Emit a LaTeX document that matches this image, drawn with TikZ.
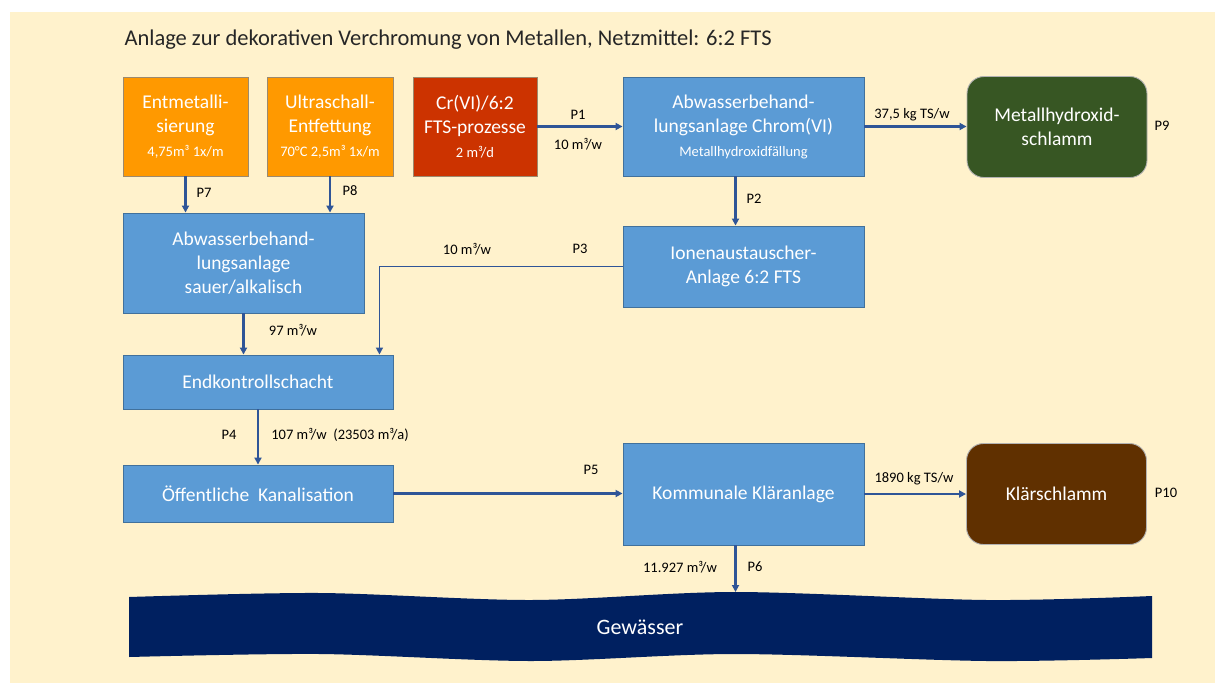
\documentclass[tikz,border=0pt]{standalone}
\usepackage{fontspec}
\setmainfont{Carlito}
\usetikzlibrary{arrows.meta}
\definecolor{cream}{HTML}{FFF2CC}
\definecolor{boxorange}{HTML}{FF9900}
\definecolor{boxred}{HTML}{CC3300}
\definecolor{boxblue}{HTML}{5B9BD5}
\definecolor{blueline}{HTML}{41719C}
\definecolor{boxgreen}{HTML}{375623}
\definecolor{boxbrown}{HTML}{603000}
\definecolor{navy}{HTML}{002060}
\definecolor{arrblue}{HTML}{2F5597}
\definecolor{warmgray}{HTML}{9C8A6E}
\newcommand{\subline}[1]{{\fontsize{14.5}{17}\selectfont #1}}

\begin{document}
\begin{tikzpicture}[x=1pt, y=-1pt,
  obj/.style={draw, line width=0.9pt, inner sep=0pt, align=center, text=white,
    font=\fontsize{19.5}{24}\selectfont},
  src/.style={obj, fill=boxorange, draw=warmgray, minimum width=125pt, minimum height=99pt},
  crsrc/.style={obj, fill=boxred, draw=warmgray, minimum width=124pt, minimum height=99pt},
  plant/.style={obj, fill=boxblue, draw=blueline},
  sludge/.style={obj, draw=gray!60, rounded corners=17pt, minimum width=180pt, minimum height=101pt},
  lbl/.style={inner sep=0pt, font=\fontsize{14.5}{17}\selectfont},
  arr/.style={-{Triangle[length=7pt,width=7pt]}, line width=2.4pt, draw=arrblue},
  thinarr/.style={-{Triangle[length=7pt,width=7pt]}, line width=1.4pt, draw=arrblue}
]
\useasboundingbox (0,0) rectangle (1215,683);
\fill[white] (0,0) rectangle (1215,683);
\fill[cream] (10,12) rectangle (1215,683);

\node[anchor=west, font=\fontsize{22.5}{27}\selectfont, text=black!85] (title) at (121,40)
  {Anlage zur dekorativen Verchromung von Metallen, Netzmittel: 6:2 FTS};

\node[src] (entm) at (185.5,126.5) {Entmetalli-\\sierung\\\subline{4,75m³ 1x/m}};
\node[src, minimum width=126pt] (ultra) at (330,126.5) {Ultraschall-\\Entfettung\\\subline{70°C 2,5m³ 1x/m}};
\node[crsrc] (crvi) at (475,126.5) {Cr(VI)/6:2\\FTS-prozesse\\\subline{2 m³/d}};
\node[plant, minimum width=241pt, minimum height=99pt] (abwcr) at (743.5,126.5)
  {Abwasserbehand-\\lungsanlage Chrom(VI)\\\subline{Metallhydroxidfällung}};
\node[sludge, fill=boxgreen] (mhs) at (1057,127) {Metallhydroxid-\\schlamm};

\node[plant, minimum width=241pt, minimum height=100pt] (sauer) at (243.5,263)
  {Abwasserbehand-\\lungsanlage\\sauer/alkalisch};
\node[plant, minimum width=241pt, minimum height=81pt] (ionen) at (743.5,266.5)
  {Ionenaustauscher-\\Anlage 6:2 FTS};
\node[plant, minimum width=270pt, minimum height=54pt] (endk) at (258,382) {Endkontrollschacht};
\node[plant, minimum width=270pt, minimum height=57pt] (kanal) at (258,493.5) {Öffentliche\ \ Kanalisation};
\node[plant, minimum width=241pt, minimum height=102pt] (klaer) at (743.5,494) {Kommunale Kläranlage};
\node[sludge, fill=boxbrown] (ksl) at (1056.5,494) {Klärschlamm};

\fill[navy] plot[smooth] coordinates {(129,597) (320,593) (531,600) (735,592) (987,600) (1152,596)}
  -- plot[smooth] coordinates {(1152,658) (987,661) (735,654) (531,661) (320,654) (129,657)} -- cycle;
\node[text=white, font=\fontsize{22}{26}\selectfont] (gew) at (640,627) {Gewässer};
\coordinate (gewtop) at (735.5,592);

\draw[arr] (entm) -- (entm |- sauer.north);
\draw[arr] (ultra) -- (ultra |- sauer.north);
\draw[arr] (crvi.east) -- (crvi.east -| abwcr.west);
\draw[arr] (abwcr.east) -- (abwcr.east -| mhs.west);
\draw[arr] ([xshift=-8pt]abwcr.south) -- ([xshift=-8pt]ionen.north);
\draw[thinarr] (ionen.west) -| ([xshift=-14pt]endk.north east);
\draw[arr] (sauer) -- (sauer |- endk.north);
\draw[arr] (endk) -- (kanal);
\draw[arr] (kanal.east) -- (kanal.east -| klaer.west);
\draw[arr] (klaer.east) -- (klaer.east -| ksl.west);
\draw[arr] ([xshift=-8pt]klaer.south) -- (gewtop);

\node[lbl] (lp7) at (204,193) {P7};
\node[lbl] (lp8) at (350,191) {P8};
\node[lbl] (lp1) at (578,115) {P1};
\node[lbl] (lq1) at (578,144) {10 m³/w};
\node[lbl] (lq9) at (912,115) {37,5 kg TS/w};
\node[lbl] (lp9) at (1162,126) {P9};
\node[lbl] (lp2) at (754,199) {P2};
\node[lbl] (lq3) at (467,249) {10 m³/w};
\node[lbl] (lp3) at (580,249) {P3};
\node[lbl] (lq97) at (293,330) {97 m³/w};
\node[lbl] (lp4) at (229,435) {P4};
\node[lbl] (lq4) at (340,435) {107 m³/w\ \ (23503 m³/a)};
\node[lbl] (lp5) at (591,470) {P5};
\node[lbl] (lq10) at (914,479) {1890 kg TS/w};
\node[lbl] (lp10) at (1166,493) {P10};
\node[lbl] (lq6) at (680,567) {11.927 m³/w};
\node[lbl] (lp6) at (755,567) {P6};
\end{tikzpicture}
\end{document}
